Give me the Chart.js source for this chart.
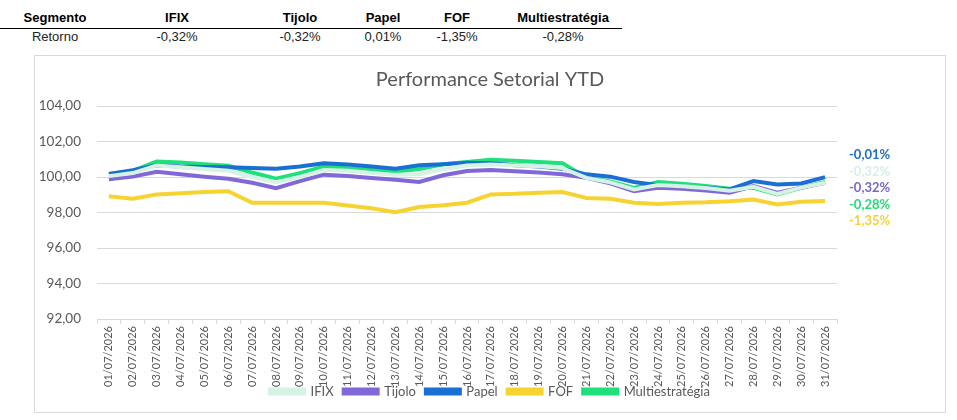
<!DOCTYPE html>
<html>
<head>
<meta charset="utf-8">
<script src="https://cdn.jsdelivr.net/npm/chart.js@4.4.1/dist/chart.umd.min.js"></script>
<style>
  body { margin: 0; background: #fff; width: 957px; height: 420px; position: relative; overflow: hidden; }
  #tbl { position: absolute; left: 0; top: 8px; border-collapse: collapse; font-family: "Liberation Sans", Arial, sans-serif; font-size: 13px; }
  #tbl th { font-weight: bold; color: #000; padding: 0 0 2px 0; height: 18px; text-align: center; border-bottom: 1px solid #000; }
  #tbl td { color: #222; padding: 0; height: 15px; text-align: center; }
  #box { position: absolute; left: 34px; top: 55px; width: 912px; height: 358px; border: 1px solid #d9d9d9; box-sizing: border-box; }
</style>
</head>
<body>
<table id="tbl"><thead><tr id="head"></tr></thead><tbody><tr id="row"></tr></tbody></table>
<div id="box"><canvas id="perf-chart"></canvas></div>
<script>
// tabela do topo
const segments = ['IFIX', 'Tijolo', 'Papel', 'FOF', 'Multiestratégia'];
const returns = ['-0,32%', '-0,32%', '0,01%', '-1,35%', '-0,28%'];
// etiquetas no fim das linhas (o Papel aparece com sinal negativo no gráfico)
const endReturns = ['-0,32%', '-0,32%', '-0,01%', '-1,35%', '-0,28%'];

const days = ['01/07/2026','02/07/2026','03/07/2026','04/07/2026','05/07/2026','06/07/2026','07/07/2026','08/07/2026',
    '09/07/2026','10/07/2026','11/07/2026','12/07/2026','13/07/2026','14/07/2026','15/07/2026','16/07/2026',
    '17/07/2026','18/07/2026','19/07/2026','20/07/2026','21/07/2026','22/07/2026','23/07/2026','24/07/2026',
    '25/07/2026','26/07/2026','27/07/2026','28/07/2026','29/07/2026','30/07/2026','31/07/2026'];

const ifix = [100.05, 100.22, 100.65, 100.55, 100.45, 100.35, 100.00, 99.70, 100.00, 100.40, 100.35, 100.22, 100.12, 100.15, 100.45, 100.65,
    100.70, 100.65, 100.60, 100.50, 99.95, 99.70, 99.30, 99.55, 99.48, 99.38, 99.22, 99.45, 99.05, 99.40, 99.68];
const tijolo = [99.87, 100.02, 100.30, 100.15, 100.02, 99.90, 99.68, 99.37, 99.77, 100.13, 100.05, 99.95, 99.85, 99.72, 100.10, 100.34,
    100.40, 100.32, 100.25, 100.15, 99.96, 99.64, 99.20, 99.39, 99.34, 99.24, 99.11, 99.49, 99.11, 99.39, 99.68];
const papel = [100.17, 100.38, 100.66, 100.59, 100.57, 100.55, 100.51, 100.47, 100.59, 100.78, 100.70, 100.59, 100.47, 100.66, 100.72, 100.80,
    100.78, 100.66, 100.59, 100.47, 100.15, 100.02, 99.72, 99.53, 99.45, 99.39, 99.30, 99.77, 99.58, 99.64, 99.99];
const fof = [98.92, 98.77, 99.02, 99.09, 99.15, 99.20, 98.55, 98.55, 98.55, 98.55, 98.40, 98.24, 98.01, 98.31, 98.41, 98.55,
    99.02, 99.05, 99.11, 99.15, 98.82, 98.77, 98.55, 98.48, 98.55, 98.58, 98.64, 98.73, 98.45, 98.60, 98.65];
const multi = [100.17, 100.34, 100.87, 100.82, 100.72, 100.63, 100.25, 99.91, 100.21, 100.59, 100.50, 100.40, 100.30, 100.45, 100.72, 100.85,
    100.97, 100.91, 100.85, 100.78, 99.96, 99.75, 99.39, 99.72, 99.62, 99.49, 99.34, 99.39, 99.02, 99.39, 99.72];

// ordem das etiquetas na direita
const endOrder = ['Papel', 'IFIX', 'Tijolo', 'Multiestratégia', 'FOF'];

const colWidths = [110, 134, 112, 54, 94, 118];

function getColor(seg) {
    if (seg === 'IFIX') return '#d6f2e5';
    if (seg === 'Tijolo') return '#8068d8';
    if (seg === 'Papel') return '#1a6fd3';
    if (seg === 'FOF') return '#f6d331';
    if (seg === 'Multiestratégia') return '#1fe07b';
}
function getLabelColor(seg) {
    if (seg === 'IFIX') return '#d8efe5';
    if (seg === 'Tijolo') return '#7a66c9';
    if (seg === 'Papel') return '#1f6ec0';
    if (seg === 'FOF') return '#f4d23c';
    if (seg === 'Multiestratégia') return '#25d97a';
}

const head = document.querySelector('#head');
const row = document.querySelector('#row');
['Segmento'].concat(segments).forEach((s, i) => {
    const th = document.createElement('th');
    th.textContent = s;
    th.style.width = colWidths[i] + 'px';
    head.appendChild(th);
});
['Retorno'].concat(returns).forEach(r => {
    const td = document.createElement('td');
    td.textContent = r;
    row.appendChild(td);
});

const seriesData = [ifix, tijolo, papel, fof, multi];

const endLabels = {
    id: 'endLabels',
    afterLayout(chart) {
        // legenda sobe por cima das datas, como no Excel
        chart.legend.top -= 14;
        chart.legend.bottom -= 14;
    },
    afterDatasetsDraw(chart) {
        const ctx = chart.ctx;
        const yScale = chart.scales.y;
        const top = yScale.getPixelForValue(papel[papel.length - 1]) - 22;
        ctx.save();
        ctx.font = 'bold 13px Lato';
        ctx.textBaseline = 'middle';
        ctx.textAlign = 'left';
        endOrder.forEach((seg, i) => {
            ctx.fillStyle = getLabelColor(seg);
            ctx.fillText(endReturns[segments.indexOf(seg)], chart.chartArea.right + 12, top + i * 16.4);
        });
        ctx.restore();
    }
};

new Chart(document.querySelector('#perf-chart').getContext('2d'), {
    type: 'line',
    data: {
        labels: days,
        datasets: segments.map((seg, i) => ({
            label: seg,
            data: seriesData[i],
            borderColor: getColor(seg),
            backgroundColor: getColor(seg),
            borderWidth: 4,
            pointRadius: 0,
            tension: 0,
            fill: false
        }))
    },
    options: {
        responsive: true,
        maintainAspectRatio: false,
        animation: false,
        layout: { padding: 0 },
        plugins: {
            title: {
                display: true,
                text: 'Performance Setorial YTD',
                color: '#595959',
                font: { family: 'Lato', size: 20, weight: 'normal' },
                padding: { top: 12, bottom: 14 }
            },
            legend: {
                position: 'bottom',
                maxHeight: 23,
                labels: {
                    color: '#595959',
                    font: { family: 'Lato', size: 13 },
                    boxWidth: 34,
                    boxHeight: 4,
                    padding: 10
                }
            },
            tooltip: { enabled: false }
        },
        scales: {
            x: {
                offset: true,
                grid: { display: true, drawOnChartArea: false, drawTicks: true, tickLength: 5, color: '#d9d9d9', offset: true },
                border: { display: false },
                ticks: {
                    color: '#595959',
                    font: { family: 'Lato', size: 11 },
                    maxRotation: 90,
                    minRotation: 90,
                    autoSkip: false,
                    padding: 2
                },
                afterFit(scale) { scale.height = 70; }
            },
            y: {
                min: 92,
                max: 104,
                grid: { color: '#d9d9d9', drawTicks: false },
                border: { display: false },
                ticks: {
                    stepSize: 2,
                    color: '#595959',
                    font: { family: 'Lato', size: 13.5 },
                    padding: 16,
                    callback: value => value.toFixed(2).replace('.', ',')
                },
                afterFit(scale) { scale.width = 62; }
            },
            // espaço vazio à direita para as etiquetas
            yRight: {
                position: 'right',
                grid: { display: false },
                border: { display: false },
                ticks: { display: false },
                afterFit(scale) { scale.width = 108; }
            }
        }
    },
    plugins: [endLabels]
});
</script>
</body>
</html>
